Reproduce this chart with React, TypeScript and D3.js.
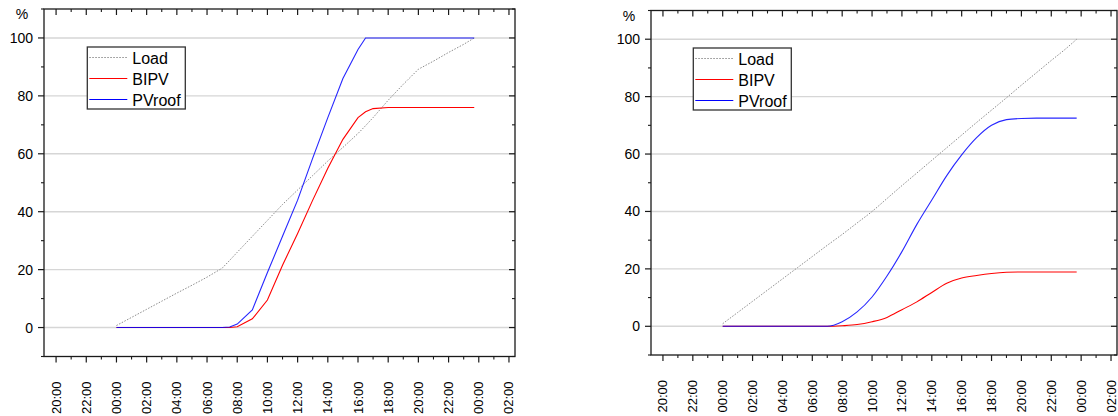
import React from "react";
import * as d3 from "d3";

// ---------- data ----------
const xTickHours = [-4, -2, 0, 2, 4, 6, 8, 10, 12, 14, 16, 18, 20, 22, 24, 26];
const xTickLabels = ["20:00", "22:00", "00:00", "02:00", "04:00", "06:00", "08:00", "10:00", "12:00", "14:00", "16:00", "18:00", "20:00", "22:00", "00:00", "02:00"];
const yTicks = [0, 20, 40, 60, 80, 100];
const seriesNames = ["Load", "BIPV", "PVroof"];

// Left panel
const hoursLeft = [0, 1, 2, 3, 4, 5, 6, 7, 7.5, 8, 9, 10, 11, 12, 13, 14, 15, 16, 16.5, 17, 18, 19, 20, 21, 22, 23, 23.7];
const loadLeft = [0.7, 3.5, 6.3, 9.1, 11.9, 14.6, 17.4, 20.5, 23.2, 26, 31.5, 37, 42.5, 47.5, 52.5, 57.5, 62.2, 67, 69.7, 72.5, 78.5, 84, 89.2, 92, 95, 97.8, 100];
const bipvLeft = [0, 0, 0, 0, 0, 0, 0, 0, 0, 0.3, 3.0, 9.5, 21.5, 32.5, 44, 55, 65, 72.5, 74.5, 75.6, 76, 76, 76, 76, 76, 76, 76];
const pvroofLeft = [0, 0, 0, 0, 0, 0, 0, 0, 0.2, 1.2, 6.1, 19, 31.5, 44, 58.5, 72.5, 86, 96, 100, 100, 100, 100, 100, 100, 100, 100, 100];

// Right panel
const hoursRight = [0, 1, 2, 3, 4, 5, 6, 7, 8, 9, 10, 11, 12, 13, 14, 15, 16, 17, 18, 19, 20, 21, 22, 23, 23.7];
const loadRight = [0.9, 4.8, 8.7, 12.6, 16.5, 20.4, 24.3, 28.2, 32, 36, 40, 44.5, 49, 53.4, 57.8, 62.2, 66.6, 71, 75.3, 79.6, 84, 88.3, 92.6, 96.8, 100];
const bipvRight = [0, 0, 0, 0, 0, 0, 0, 0, 0.2, 0.6, 1.6, 3.1, 5.8, 8.5, 11.8, 15, 16.8, 17.7, 18.4, 18.8, 18.9, 18.9, 18.9, 18.9, 18.9];
const pvroofRight = [0, 0, 0, 0, 0, 0, 0, 0, 1.6, 5, 10.2, 17.5, 26, 35.5, 44, 52.5, 59.7, 65.7, 70, 72, 72.4, 72.5, 72.5, 72.5, 72.5];

const FONT = "'Liberation Sans', Arial, Helvetica, sans-serif";
const AXIS = "#1a1a1a";

type Box = { l: number; r: number; t: number; b: number };

function Panel({ box, hours, load, bipv, pvroof, legend, smooth }: {
  box: Box; hours: number[]; load: number[]; bipv: number[]; pvroof: number[];
  legend: { x: number; y: number }; smooth: boolean;
}) {
  const x = d3.scaleLinear().domain([-4.8, 26.4]).range([box.l, box.r]);
  const y = d3.scaleLinear().domain([-10, 110]).range([box.b, box.t]);
  const mk = (vals: number[]) =>
    d3.line<number>()
      .x((_, i) => x(hours[i]))
      .y((d) => y(d))
      .curve(smooth ? d3.curveMonotoneX : d3.curveLinear)(vals) || "";

  const minorX = d3.range(-4, 27, 1).filter((h) => !xTickHours.includes(h));
  const minorY = [-10, 10, 30, 50, 70, 90, 110];

  const colors = ["#8c8c8c", "#ff0000", "#0000ff"];
  const dashes = ["1.5,1.5", undefined, undefined];

  return (
    <g>
      {yTicks.map((v) => (
        <line key={"g" + v} x1={box.l} x2={box.r} y1={y(v)} y2={y(v)} stroke="#d6d6d6" strokeWidth={1.4} />
      ))}
      <path d={mk(load)} fill="none" stroke={colors[0]} strokeWidth={1} strokeDasharray={dashes[0]} />
      <path d={mk(bipv)} fill="none" stroke={colors[1]} strokeWidth={1.1} />
      <path d={mk(pvroof)} fill="none" stroke={colors[2]} strokeWidth={1.1} strokeOpacity={0.85} />

      <rect x={box.l} y={box.t} width={box.r - box.l} height={box.b - box.t} fill="none" stroke={AXIS} strokeWidth={1.3} />

      {/* bottom axis ticks (outward) and top (inward) */}
      {xTickHours.map((h) => (
        <g key={"xt" + h}>
          <line x1={x(h)} x2={x(h)} y1={box.b} y2={box.b + 6} stroke={AXIS} strokeWidth={1.2} />
          <line x1={x(h)} x2={x(h)} y1={box.t} y2={box.t + 6} stroke={AXIS} strokeWidth={1.2} />
        </g>
      ))}
      {minorX.map((h) => (
        <g key={"xm" + h}>
          <line x1={x(h)} x2={x(h)} y1={box.b} y2={box.b + 3} stroke={AXIS} strokeWidth={1.1} />
          <line x1={x(h)} x2={x(h)} y1={box.t} y2={box.t + 3} stroke={AXIS} strokeWidth={1.1} />
        </g>
      ))}
      {/* left axis ticks (outward) and right (inward) */}
      {yTicks.map((v) => (
        <g key={"yt" + v}>
          <line x1={box.l - 6} x2={box.l} y1={y(v)} y2={y(v)} stroke={AXIS} strokeWidth={1.2} />
          <line x1={box.r - 6} x2={box.r} y1={y(v)} y2={y(v)} stroke={AXIS} strokeWidth={1.2} />
        </g>
      ))}
      {minorY.map((v) => (
        <g key={"ym" + v}>
          <line x1={box.l - 3} x2={box.l} y1={y(v)} y2={y(v)} stroke={AXIS} strokeWidth={1.1} />
          <line x1={box.r - 3} x2={box.r} y1={y(v)} y2={y(v)} stroke={AXIS} strokeWidth={1.1} />
        </g>
      ))}

      {yTicks.map((v) => (
        <text key={"yl" + v} x={box.l - 11} y={y(v)} textAnchor="end" dominantBaseline="central" fontSize={14} fontFamily={FONT} fill="#000">
          {v}
        </text>
      ))}
      <text x={box.l - 22} y={box.t + 10} textAnchor="middle" fontSize={14} fontFamily={FONT} fill="#000">%</text>

      {xTickHours.map((h, i) => (
        <text key={"xl" + i} transform={`translate(${x(h)},${box.b + 25}) rotate(-90)`} textAnchor="end" dominantBaseline="central" fontSize={13} fontFamily={FONT} fill="#000">
          {xTickLabels[i]}
        </text>
      ))}

      {/* legend */}
      <g transform={`translate(${legend.x},${legend.y})`}>
        <rect x={0} y={0} width={98} height={62} fill="#fff" stroke="#333" strokeWidth={1.3} />
        {seriesNames.map((name, i) => (
          <g key={name} transform={`translate(0,${16.5 + i * 21})`}>
            <line x1={2} x2={40} y1={-6} y2={-6} stroke={colors[i]} strokeWidth={1.1} strokeDasharray={dashes[i]} />
            <text x={45} y={0} fontSize={16} fontFamily={FONT} fill="#000">{name}</text>
          </g>
        ))}
      </g>
    </g>
  );
}

export default function App() {
  return (
    <svg width={1118} height={416} style={{ position: "fixed", left: 0, top: 0, background: "#fff" }}>
      <rect x={0} y={0} width={1118} height={416} fill="#fff" />
      <Panel box={{ l: 44, r: 515, t: 9, b: 356.5 }} hours={hoursLeft} load={loadLeft} bipv={bipvLeft} pvroof={pvroofLeft} legend={{ x: 87.3, y: 47 }} smooth={false} />
      <Panel box={{ l: 651, r: 1117, t: 10.5, b: 355 }} hours={hoursRight} load={loadRight} bipv={bipvRight} pvroof={pvroofRight} legend={{ x: 693.3, y: 48 }} smooth={true} />
    </svg>
  );
}
